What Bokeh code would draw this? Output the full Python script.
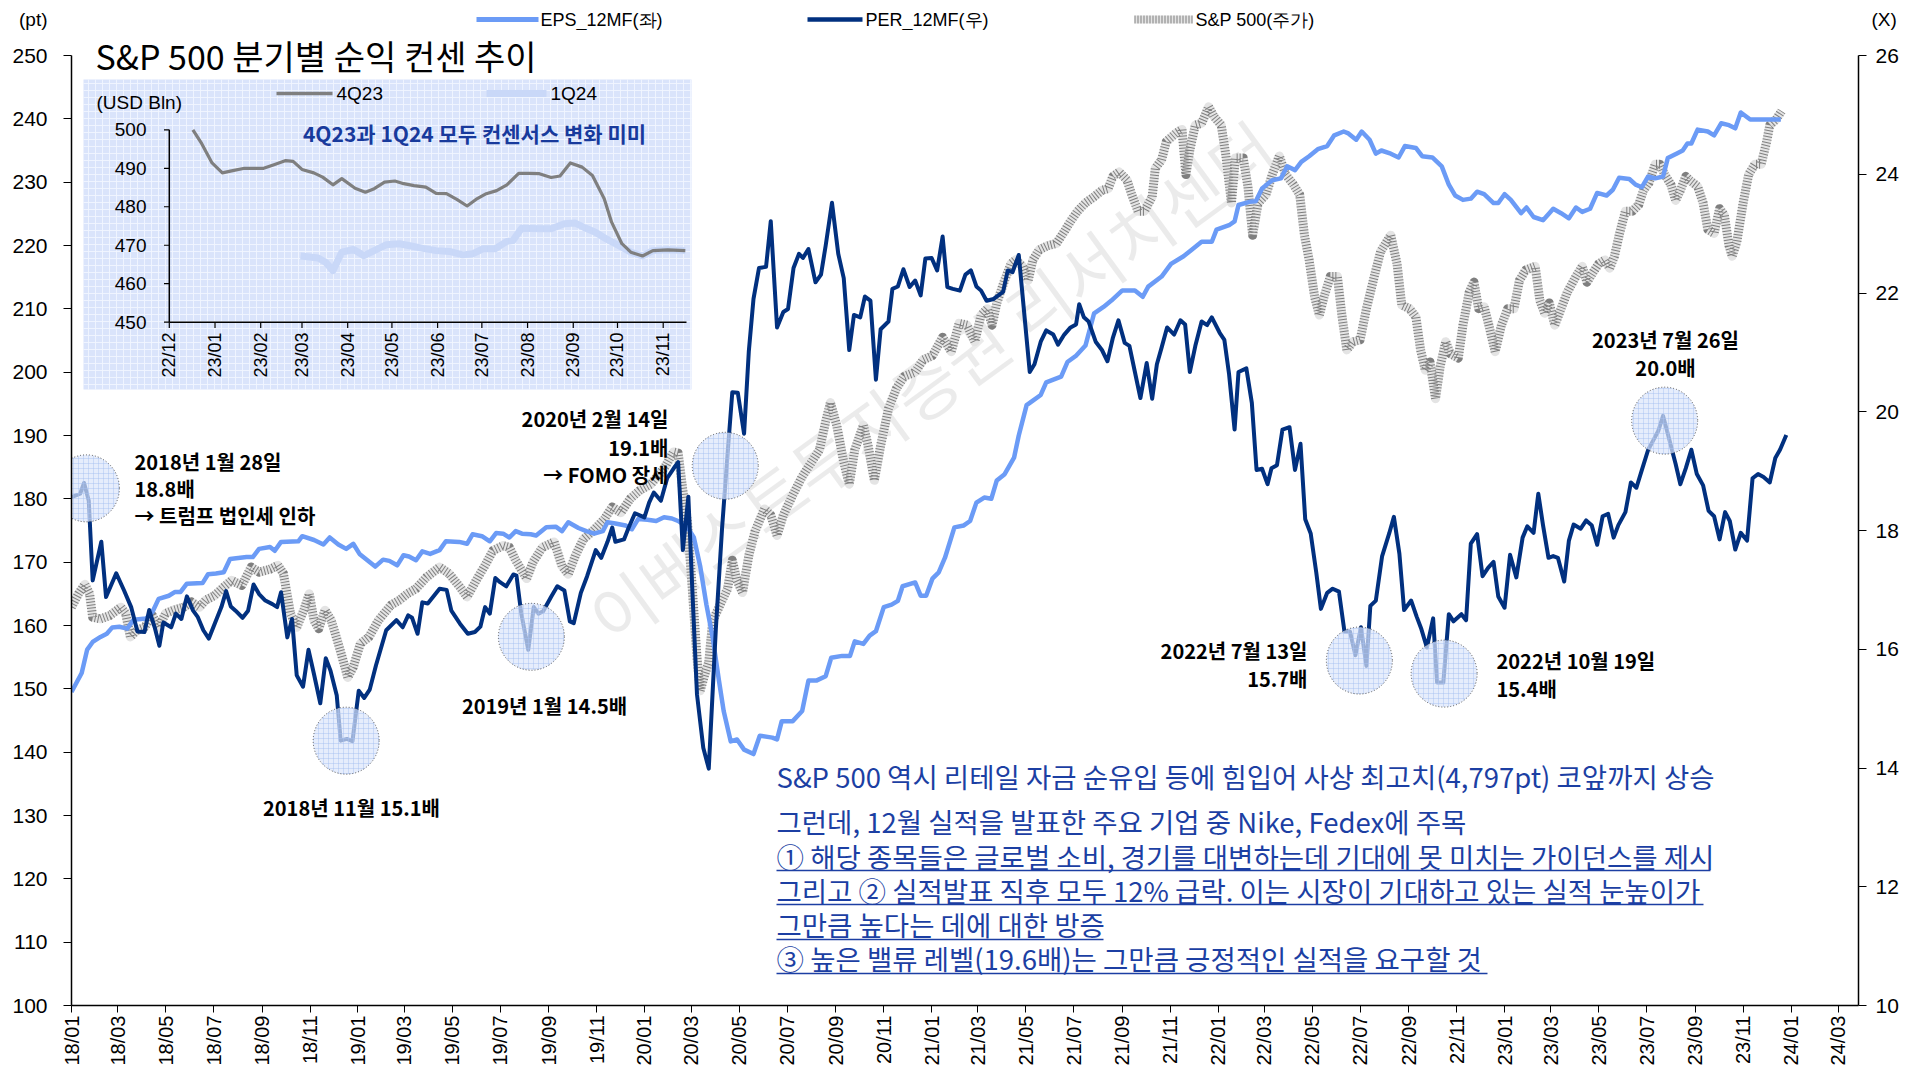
import math
import pandas as pd
from bokeh.plotting import figure
from bokeh.layouts import column
from bokeh.models import Range1d, LinearAxis, FixedTicker, DatetimeTickFormatter
from bokeh.core.properties import value
from bokeh.embed import file_html
from bokeh.resources import INLINE

# ---------------- DATA ----------------
per_dates = [
"2018-01-01","2018-01-12","2018-01-17","2018-01-23","2018-01-28","2018-02-08","2018-02-14","2018-02-27","2018-03-09","2018-03-18",
"2018-03-26","2018-04-04","2018-04-10","2018-04-17","2018-04-23","2018-04-28","2018-05-08","2018-05-14","2018-05-21","2018-05-28",
"2018-06-05","2018-06-11","2018-06-18","2018-06-25","2018-07-04","2018-07-11","2018-07-17","2018-07-23","2018-07-29","2018-08-07",
"2018-08-14","2018-08-21","2018-08-28","2018-09-05","2018-09-14","2018-09-20","2018-09-25","2018-10-03","2018-10-09","2018-10-15",
"2018-10-23","2018-10-30","2018-11-06","2018-11-14","2018-11-21","2018-11-27","2018-12-05","2018-12-10","2018-12-18","2018-12-25",
"2019-01-02","2019-01-09","2019-01-16","2019-01-24","2019-02-06","2019-02-19","2019-02-27","2019-03-06","2019-03-11","2019-03-18",
"2019-03-24","2019-03-31","2019-04-15","2019-04-24","2019-04-30","2019-05-11","2019-05-21","2019-05-30","2019-06-06","2019-06-12",
"2019-06-18","2019-06-25","2019-07-01","2019-07-09","2019-07-18","2019-07-22","2019-07-28","2019-08-06","2019-08-13","2019-08-19",
"2019-08-25","2019-09-04","2019-09-12","2019-09-21","2019-09-28","2019-10-03","2019-10-12","2019-10-20","2019-10-31","2019-11-07",
"2019-11-15","2019-11-21","2019-11-25","2019-12-06","2019-12-12","2019-12-20","2020-01-01","2020-01-07","2020-01-13","2020-01-22",
"2020-01-30","2020-02-09","2020-02-13","2020-02-19","2020-02-23","2020-02-26","2020-03-02","2020-03-08","2020-03-16","2020-03-23",
"2020-04-01","2020-04-09","2020-04-16","2020-04-22","2020-04-29","2020-05-07","2020-05-13","2020-05-19","2020-05-26","2020-06-04",
"2020-06-10","2020-06-18","2020-06-26","2020-07-02","2020-07-09","2020-07-16","2020-07-21","2020-07-28","2020-08-06","2020-08-13",
"2020-08-19","2020-08-27","2020-09-04","2020-09-11","2020-09-18","2020-09-24","2020-10-02","2020-10-08","2020-10-15","2020-10-22",
"2020-10-28","2020-11-07","2020-11-12","2020-11-19","2020-11-26","2020-12-04","2020-12-11","2020-12-18","2020-12-24","2021-01-01",
"2021-01-08","2021-01-15","2021-01-21","2021-01-28","2021-02-06","2021-02-13","2021-02-20","2021-02-27","2021-03-05","2021-03-12",
"2021-03-21","2021-04-02","2021-04-08","2021-04-14","2021-04-22","2021-05-06","2021-05-12","2021-05-20","2021-05-27","2021-06-05",
"2021-06-11","2021-06-19","2021-06-27","2021-07-04","2021-07-08","2021-07-14","2021-07-20","2021-07-29","2021-08-06","2021-08-13",
"2021-08-20","2021-08-27","2021-09-04","2021-09-10","2021-09-17","2021-09-24","2021-10-02","2021-10-09","2021-10-15","2021-10-21",
"2021-10-28","2021-11-06","2021-11-14","2021-11-20","2021-11-26","2021-12-03","2021-12-11","2021-12-18","2021-12-24","2022-01-03",
"2022-01-09","2022-01-15","2022-01-22","2022-01-27","2022-02-06","2022-02-13","2022-02-19","2022-02-26","2022-03-05","2022-03-10",
"2022-03-17","2022-03-24","2022-04-02","2022-04-09","2022-04-16","2022-04-22","2022-04-29","2022-05-06","2022-05-12","2022-05-20",
"2022-05-27","2022-06-04","2022-06-11","2022-06-18","2022-06-25","2022-07-02","2022-07-09","2022-07-14","2022-07-21","2022-07-29",
"2022-08-07","2022-08-13","2022-08-20","2022-08-26","2022-09-04","2022-09-11","2022-09-17","2022-09-24","2022-10-02","2022-10-07",
"2022-10-15","2022-10-22","2022-10-28","2022-11-07","2022-11-13","2022-11-19","2022-11-27","2022-12-04","2022-12-11","2022-12-18",
"2022-12-24","2023-01-01","2023-01-08","2023-01-16","2023-01-24","2023-01-30","2023-02-07","2023-02-13","2023-02-19","2023-02-26",
"2023-03-04","2023-03-10","2023-03-18","2023-03-24","2023-03-30","2023-04-08","2023-04-15","2023-04-22","2023-04-29","2023-05-06",
"2023-05-13","2023-05-20","2023-05-26","2023-06-04","2023-06-11","2023-06-18","2023-06-25","2023-07-03","2023-07-10","2023-07-16",
"2023-07-22","2023-07-28","2023-08-07","2023-08-13","2023-08-20","2023-08-27","2023-09-03","2023-09-11","2023-09-18","2023-09-25",
"2023-10-02","2023-10-09","2023-10-15","2023-10-22","2023-10-29","2023-11-06","2023-11-13","2023-11-20","2023-11-27","2023-12-05",
"2023-12-12","2023-12-18","2023-12-26"]
per_values = [
18.56,18.62,18.80,18.50,17.16,17.81,16.88,17.28,16.99,16.71,
16.30,16.29,16.66,16.37,16.06,16.45,16.37,16.60,16.51,16.89,
16.65,16.54,16.32,16.18,16.48,16.71,16.98,16.72,16.65,16.53,
16.65,17.09,16.93,16.82,16.76,16.71,16.96,16.20,16.51,15.56,
15.37,15.99,15.58,15.09,15.85,15.64,15.22,14.46,14.49,14.45,
15.30,15.18,15.32,15.73,16.32,16.49,16.37,16.57,16.53,16.26,
16.79,16.77,17.02,17.00,16.65,16.43,16.26,16.29,16.38,16.71,
16.60,17.20,17.13,17.06,17.26,17.24,16.61,15.99,16.71,16.60,
16.64,16.88,17.06,16.99,16.47,16.44,16.95,17.23,17.67,17.54,
17.81,18.05,17.81,17.85,18.05,18.29,18.22,18.47,18.64,18.50,
18.88,19.08,19.15,17.67,18.19,18.57,17.02,15.24,14.34,13.99,
16.34,18.05,19.29,20.33,20.32,19.63,21.01,21.90,22.42,22.44,
23.21,21.42,21.68,21.73,22.42,22.66,22.59,22.74,22.18,22.31,
22.80,23.52,22.66,22.25,21.04,21.63,21.59,21.94,21.87,20.54,
21.39,21.52,22.07,22.11,22.40,22.10,22.21,21.96,22.58,22.59,
22.38,22.95,22.10,22.07,22.04,22.31,22.38,22.11,22.04,21.87,
21.90,22.02,22.38,22.35,22.64,20.67,20.80,21.18,21.37,21.30,
21.13,21.30,21.42,21.47,21.81,21.59,21.52,21.18,21.04,20.85,
21.25,21.54,21.16,21.11,20.67,20.23,20.82,20.22,20.80,21.08,
21.42,21.30,21.54,21.47,20.67,21.11,21.52,21.46,21.59,21.33,
21.21,20.63,19.70,20.67,20.73,20.15,19.02,19.04,18.78,19.05,
19.10,19.70,19.74,19.02,19.46,18.19,17.95,17.30,16.68,16.95,
17.02,16.97,16.30,16.30,15.90,16.37,15.72,16.73,16.82,17.57,
17.95,18.23,17.61,16.66,16.82,16.55,16.34,16.03,16.52,15.44,
15.44,16.59,16.47,16.59,16.49,17.78,17.94,17.23,17.37,17.47,
16.89,16.70,17.59,17.21,17.88,18.07,17.96,18.62,18.09,17.54,
17.57,17.54,17.14,17.83,18.10,18.03,18.17,18.09,17.76,18.24,
18.28,17.88,18.09,18.31,18.81,18.72,19.02,19.36,19.53,19.68,
19.93,19.63,19.12,18.78,19.05,19.36,18.95,18.76,18.33,18.24,
17.85,18.31,18.16,17.68,17.96,17.83,18.88,18.95,18.90,18.81,
19.22,19.36,19.61]

eps_dates = [
"2018-01-01","2018-01-14","2018-01-21","2018-01-28","2018-02-07","2018-02-15","2018-02-22","2018-03-03","2018-03-13","2018-03-21",
"2018-04-06","2018-04-14","2018-04-22","2018-05-05","2018-05-13","2018-05-20","2018-05-28","2018-06-17","2018-06-24","2018-07-04",
"2018-07-14","2018-07-22","2018-08-12","2018-08-20","2018-08-28","2018-09-11","2018-09-17","2018-09-25","2018-10-17","2018-10-22",
"2018-11-06","2018-11-18","2018-11-26","2018-12-07","2018-12-17","2018-12-26","2019-01-03","2019-01-13","2019-01-23","2019-02-02",
"2019-02-10","2019-02-20","2019-02-28","2019-03-07","2019-03-16","2019-03-24","2019-04-03","2019-04-15","2019-04-23","2019-05-10",
"2019-05-20","2019-05-27","2019-06-08","2019-06-18","2019-06-26","2019-07-05","2019-07-13","2019-07-21","2019-07-29","2019-08-09",
"2019-08-16","2019-08-29","2019-09-10","2019-09-18","2019-09-26","2019-10-09","2019-10-19","2019-10-29","2019-11-09","2019-11-15",
"2019-11-25","2019-12-08","2019-12-16","2019-12-24","2020-01-05","2020-01-16","2020-01-26","2020-02-05","2020-02-13","2020-02-25",
"2020-03-04","2020-03-12","2020-03-20","2020-03-28","2020-04-05","2020-04-11","2020-04-20","2020-04-28","2020-05-07","2020-05-19",
"2020-05-27","2020-06-12","2020-06-18","2020-06-24","2020-07-08","2020-07-20","2020-07-28","2020-08-07","2020-08-19","2020-08-26",
"2020-09-09","2020-09-19","2020-09-25","2020-10-06","2020-10-14","2020-10-22","2020-11-01","2020-11-11","2020-11-19","2020-11-25",
"2020-12-11","2020-12-18","2020-12-25","2021-01-02","2021-01-10","2021-01-18","2021-01-30","2021-02-11","2021-02-19","2021-02-27",
"2021-03-09","2021-03-18","2021-03-25","2021-04-04","2021-04-16","2021-04-22","2021-05-02","2021-05-10","2021-05-20","2021-05-27",
"2021-06-15","2021-06-23","2021-07-04","2021-07-16","2021-07-27","2021-08-08","2021-08-18","2021-09-01","2021-09-17","2021-09-27",
"2021-10-04","2021-10-21","2021-11-02","2021-11-18","2021-11-28","2021-12-11","2021-12-24","2021-12-30","2022-01-15","2022-01-22",
"2022-01-27","2022-02-10","2022-02-18","2022-02-26","2022-03-11","2022-03-22","2022-03-30","2022-04-09","2022-04-17","2022-04-27",
"2022-05-08","2022-05-20","2022-05-29","2022-06-10","2022-06-16","2022-06-26","2022-07-03","2022-07-13","2022-07-21","2022-07-28",
"2022-08-09","2022-08-19","2022-08-27","2022-09-10","2022-09-18","2022-10-01","2022-10-13","2022-10-22","2022-10-30","2022-11-09",
"2022-11-19","2022-11-27","2022-12-06","2022-12-18","2022-12-24","2023-01-01","2023-01-09","2023-01-22","2023-01-29","2023-02-07",
"2023-02-19","2023-02-27","2023-03-04","2023-03-14","2023-03-24","2023-04-02","2023-04-10","2023-04-20","2023-04-29","2023-05-11",
"2023-05-19","2023-05-27","2023-06-09","2023-06-17","2023-06-25","2023-07-03","2023-07-12","2023-07-22","2023-07-28","2023-08-08",
"2023-08-16","2023-08-22","2023-08-27","2023-09-04","2023-09-17","2023-09-25","2023-10-04","2023-10-14","2023-10-22","2023-10-29",
"2023-11-10","2023-11-26","2023-12-19"]
eps_values = [
149.5,152.5,156.2,157.4,158.2,158.7,159.7,159.8,159.5,160.9,
161.1,162.1,164.2,164.7,165.3,165.3,166.6,166.7,168.1,168.2,
168.4,170.5,170.8,170.8,172.1,172.4,171.8,173.2,173.3,174.1,
173.5,172.8,173.9,172.8,172.1,172.9,171.3,170.3,169.3,170.4,
170.2,169.5,171.1,170.9,170.3,171.7,171.3,171.9,173.3,173.2,
172.9,174.4,174.1,173.3,174.6,174.5,173.9,174.9,174.5,174.4,
174.2,175.5,175.6,174.9,176.3,175.4,174.9,174.5,174.9,176.3,
176.1,175.8,175.2,176.8,176.7,176.5,177.1,176.9,176.5,175.5,
173.9,169.4,163.3,158.1,151.3,146.5,141.7,142.0,140.4,139.7,
142.6,142.3,142.0,144.9,144.9,146.5,151.3,151.3,152.0,154.9,
155.2,155.2,157.5,157.1,158.4,159.1,162.9,163.3,163.9,166.2,
166.8,164.7,164.7,167.4,168.4,170.7,175.5,175.8,176.5,179.4,
180.2,180.0,182.9,183.9,186.5,190.0,194.8,195.5,196.4,198.4,
199.3,201.6,202.6,204.2,209.3,210.3,211.3,212.9,212.9,211.9,
213.5,215.1,217.1,218.3,219.3,220.6,220.6,222.5,223.2,223.8,
226.4,226.9,227.0,229.0,230.3,230.6,232.5,231.9,233.2,234.1,
235.2,235.7,237.4,238.0,237.7,236.7,238.0,236.7,234.5,235.0,
234.5,233.9,235.7,235.4,234.1,233.9,232.5,229.6,227.9,227.2,
227.4,228.5,228.1,226.7,226.7,228.1,227.2,225.1,226.0,224.5,
224.0,225.1,225.8,225.1,224.3,226.0,225.3,225.8,228.3,227.9,
228.8,230.7,230.5,229.6,229.2,230.9,230.6,230.9,233.8,234.5,
235.0,236.1,236.1,238.3,238.0,237.4,239.3,239.0,238.5,241.0,
239.9,239.9,239.9]

spx_dates = [
"2018-01-01","2018-01-10","2018-01-18","2018-01-24","2018-01-28","2018-02-07","2018-02-19","2018-03-05","2018-03-11","2018-03-17",
"2018-03-25","2018-04-04","2018-04-14","2018-04-22","2018-05-01","2018-05-11","2018-05-24","2018-06-03","2018-06-13","2018-06-21",
"2018-07-02","2018-07-14","2018-07-24","2018-08-06","2018-08-18","2018-08-28","2018-09-11","2018-09-21","2018-09-28","2018-10-07",
"2018-10-15","2018-10-24","2018-10-31","2018-11-06","2018-11-12","2018-11-20","2018-11-28","2018-12-07","2018-12-13","2018-12-19",
"2018-12-26","2019-01-04","2019-01-15","2019-01-27","2019-02-12","2019-02-23","2019-03-05","2019-03-16","2019-03-29","2019-04-15",
"2019-04-27","2019-05-11","2019-05-20","2019-06-02","2019-06-12","2019-06-22","2019-07-05","2019-07-13","2019-07-21","2019-08-04",
"2019-08-12","2019-08-24","2019-09-08","2019-09-18","2019-09-26","2019-10-05","2019-10-15","2019-10-27","2019-11-11","2019-11-21",
"2019-12-02","2019-12-14","2019-12-26","2020-01-09","2020-01-20","2020-01-28","2020-02-07","2020-02-13","2020-02-19","2020-02-25",
"2020-03-02","2020-03-08","2020-03-12","2020-03-18","2020-03-23","2020-03-28","2020-04-05","2020-04-16","2020-04-22","2020-04-28",
"2020-05-05","2020-05-13","2020-05-21","2020-06-02","2020-06-10","2020-06-18","2020-06-26","2020-07-08","2020-07-20","2020-08-01",
"2020-08-11","2020-08-19","2020-08-25","2020-09-02","2020-09-11","2020-09-18","2020-09-25","2020-10-06","2020-10-12","2020-10-20",
"2020-10-28","2020-11-07","2020-11-17","2020-11-27","2020-12-11","2020-12-21","2021-01-02","2021-01-15","2021-01-26","2021-02-05",
"2021-02-15","2021-02-25","2021-03-05","2021-03-13","2021-03-19","2021-03-25","2021-04-04","2021-04-12","2021-04-18","2021-04-27",
"2021-05-04","2021-05-10","2021-05-18","2021-05-28","2021-06-09","2021-06-19","2021-06-27","2021-07-06","2021-07-16","2021-07-27",
"2021-08-06","2021-08-14","2021-08-20","2021-08-28","2021-09-07","2021-09-13","2021-09-21","2021-09-29","2021-10-09","2021-10-13",
"2021-10-21","2021-10-27","2021-11-08","2021-11-16","2021-11-21","2021-11-26","2021-12-03","2021-12-11","2021-12-20","2021-12-27",
"2022-01-05","2022-01-11","2022-01-18","2022-01-23","2022-02-02","2022-02-08","2022-02-14","2022-02-21","2022-03-03","2022-03-11",
"2022-03-20","2022-03-28","2022-04-07","2022-04-15","2022-04-21","2022-04-27","2022-05-04","2022-05-10","2022-05-16","2022-05-24",
"2022-06-02","2022-06-08","2022-06-14","2022-06-22","2022-07-01","2022-07-09","2022-07-19","2022-07-27","2022-08-09","2022-08-17",
"2022-08-23","2022-09-02","2022-09-10","2022-09-16","2022-09-22","2022-09-28","2022-10-05","2022-10-11","2022-10-18","2022-10-24",
"2022-11-03","2022-11-09","2022-11-17","2022-11-23","2022-11-29","2022-12-06","2022-12-12","2022-12-20","2022-12-28","2023-01-05",
"2023-01-13","2023-01-20","2023-01-28","2023-02-09","2023-02-15","2023-02-21","2023-02-27","2023-03-06","2023-03-14","2023-03-22",
"2023-04-02","2023-04-10","2023-04-16","2023-04-24","2023-05-01","2023-05-09","2023-05-15","2023-05-21","2023-05-27","2023-06-04",
"2023-06-13","2023-06-21","2023-06-27","2023-07-04","2023-07-12","2023-07-18","2023-07-24","2023-08-01","2023-08-07","2023-08-13",
"2023-08-20","2023-08-25","2023-09-04","2023-09-11","2023-09-17","2023-09-25","2023-10-02","2023-10-08","2023-10-14","2023-10-18",
"2023-10-24","2023-11-01","2023-11-08","2023-11-16","2023-11-24","2023-12-01","2023-12-05","2023-12-13","2023-12-20"]
spx_values = [
2600,2659,2700,2659,2556,2549,2564,2600,2573,2470,
2498,2512,2564,2512,2573,2587,2600,2623,2600,2631,
2650,2688,2717,2695,2775,2753,2766,2783,2747,2573,
2512,2587,2659,2542,2506,2587,2542,2440,2368,2293,
2338,2440,2470,2542,2609,2631,2659,2681,2730,2775,
2747,2688,2645,2725,2783,2847,2869,2861,2805,2725,
2797,2861,2885,2780,2744,2825,2896,2932,2985,3038,
3013,3074,3110,3137,3181,3217,3278,3273,3110,2966,
2681,2379,2235,2307,2360,2540,2600,2681,2805,2717,
2664,2825,2932,3029,3002,2913,3002,3090,3170,3234,
3287,3411,3494,3395,3234,3137,3287,3395,3306,3154,
3306,3467,3555,3608,3627,3680,3699,3779,3716,3840,
3832,3760,3876,3904,3832,3929,4028,4100,4117,4089,
4028,4117,4161,4178,4189,4241,4286,4330,4366,4393,
4421,4429,4482,4501,4465,4402,4330,4330,4393,4518,
4554,4634,4670,4687,4490,4598,4706,4714,4786,4742,
4706,4571,4366,4562,4562,4438,4225,4366,4402,4490,
4571,4490,4446,4402,4225,4117,3956,3876,3956,4045,
4045,3868,3724,3760,3768,3904,4045,4153,4225,4100,
3920,3904,3868,3724,3635,3671,3511,3652,3760,3707,
3688,3832,3976,4020,3904,3912,3832,3716,3832,3904,
3904,4028,4073,4089,3940,3884,3929,3832,3904,3976,
4045,4089,4020,4064,4100,4117,4081,4133,4225,4330,
4330,4358,4421,4454,4535,4535,4490,4446,4377,4421,
4482,4465,4438,4366,4250,4233,4341,4313,4180,4133,
4197,4366,4490,4535,4535,4634,4706,4731,4767]

q4_dates = ["2022-12-17","2022-12-23","2022-12-30","2023-01-06","2023-01-13","2023-01-21","2023-02-03","2023-02-10",
            "2023-02-18","2023-02-23","2023-03-01","2023-03-09","2023-03-15","2023-03-22","2023-03-28","2023-04-06",
            "2023-04-13","2023-04-19","2023-04-26","2023-05-03","2023-05-09","2023-05-16","2023-05-24","2023-05-31",
            "2023-06-07","2023-06-14","2023-06-21","2023-06-27","2023-07-04","2023-07-11","2023-07-18","2023-07-26",
            "2023-08-02","2023-08-09","2023-08-17","2023-08-23","2023-08-30","2023-09-07","2023-09-14","2023-09-22",
            "2023-09-27","2023-10-04","2023-10-10","2023-10-18","2023-10-25","2023-11-04","2023-11-16"]
q4_values = [500.0,496.4,491.4,488.8,489.4,490.0,490.0,490.9,492.0,491.8,489.7,488.8,487.7,485.7,487.3,484.8,
             483.8,484.7,486.4,486.7,486.0,485.5,485.1,483.5,483.4,481.9,480.2,481.9,483.4,484.2,485.7,488.7,
             488.7,488.6,487.6,488.0,491.4,490.3,488.1,482.1,476.0,470.4,468.2,467.2,468.6,468.8,468.6]
q1_dates = ["2023-02-28","2023-03-12","2023-03-17","2023-03-22","2023-03-28","2023-04-05","2023-04-12","2023-04-19",
            "2023-04-27","2023-05-06","2023-05-14","2023-05-22","2023-05-31","2023-06-09","2023-06-18","2023-06-25",
            "2023-07-02","2023-07-10","2023-07-18","2023-07-22","2023-07-28","2023-08-09","2023-08-17","2023-08-26",
            "2023-09-02","2023-09-08","2023-09-16","2023-09-24","2023-10-02","2023-10-10","2023-10-18","2023-10-25",
            "2023-11-04","2023-11-16"]
q1_values = [467.2,466.7,465.6,463.4,468.2,468.9,467.3,468.6,470.1,470.4,469.8,469.2,468.6,468.4,467.5,467.8,
             469.1,469.1,471.0,471.2,474.4,474.3,474.3,475.6,475.8,474.7,473.4,471.5,469.9,468.2,467.2,468.6,
             468.8,468.6]

x_tick_labels = ["18/01","18/03","18/05","18/07","18/09","18/11","19/01","19/03","19/05","19/07","19/09","19/11",
                 "20/01","20/03","20/05","20/07","20/09","20/11","21/01","21/03","21/05","21/07","21/09","21/11",
                 "22/01","22/03","22/05","22/07","22/09","22/11","23/01","23/03","23/05","23/07","23/09","23/11",
                 "24/01","24/03"]
left_ticks = [100, 110, 120, 130, 140, 150, 160, 170, 180, 190, 200, 210, 220, 230, 240, 250]
right_ticks = [10, 12, 14, 16, 18, 20, 22, 24, 26]
inset_x_tick_labels = ["22/12","23/01","23/02","23/03","23/04","23/05","23/06","23/07","23/08","23/09","23/10","23/11"]
inset_y_ticks = [450, 460, 470, 480, 490, 500]

# highlighted points (date, PER) marked with circles
mark_dates = ["2018-01-20","2018-12-17","2019-08-10","2020-04-13","2022-06-30","2022-10-16","2023-07-24"]
mark_per = [18.71, 14.46, 16.21, 19.09, 15.81, 15.59, 19.85]

series_names = ["EPS_12MF(좌)", "PER_12MF(우)", "S&P 500(주가)"]
unit_names = ["(pt)", "(X)"]
inset_names = ["4Q23", "1Q24"]
title_text = "S&P 500 분기별 순익 컨센 추이"
inset_title = "4Q23과 1Q24 모두 컨센서스 변화 미미"
watermark = "이베스트투자증권 리서치센터"
note_lines = [
    "S&P 500 역시 리테일 자금 순유입 등에 힘입어 사상 최고치(4,797pt) 코앞까지 상승",
    "그런데, 12월 실적을 발표한 주요 기업 중 Nike, Fedex에 주목",
    "① 해당 종목들은 글로벌 소비, 경기를 대변하는데 기대에 못 미치는 가이던스를 제시",
    "그리고 ② 실적발표 직후 모두 12% 급락. 이는 시장이 기대하고 있는 실적 눈높이가",
    "그만큼 높다는 데에 대한 방증",
    "③ 높은 밸류 레벨(19.6배)는 그만큼 긍정적인 실적을 요구할 것",
]
callouts = ["2018년 1월 28일", "18.8배", "→ 트럼프 법인세 인하", "2018년 11월 15.1배", "2019년 1월 14.5배",
            "2020년 2월 14일", "19.1배", "→ FOMO 장세", "2022년 7월 13일", "15.7배",
            "2022년 10월 19일", "15.4배", "2023년 7월 26일", "20.0배"]

# ---------------- LAYOUT (page pixels) ----------------
W, H = 1917, 1069
TOP_H = 30                      # strip above the main plot frame (legend + units)
FL, FR, FT, FB = 71, 1858, TOP_H, 1005
X_START, X_END = "2018-01-01", "2024-03-27"
L_CAL = ((55, 250.0), (1005, 100.0))
R_CAL = ((55, 26.0), (1005, 10.0))
SPX_AT_100, SPX_AT_250 = 860.0, 5010.0
IX_CAL = ((168.8, "2022-12-01"), (662.7, "2023-11-01"))
IY_CAL = ((129.3, 500.0), (321.7, 450.0))

callout_pos = [(134, 461, "left"), (134, 488, "left"), (134, 515, "left"), (351, 807, "center"),
               (544, 705, "center"), (668, 418, "right"), (668, 447, "right"), (668, 474, "right"),
               (1307, 650, "right"), (1307, 678, "right"), (1496, 660, "left"), (1496, 688, "left"),
               (1665, 339, "center"), (1665, 367, "center")]
note_x = 776
note_y = [775, 820, 855, 889, 923, 957]
underlines = [(870, 1710), (904, 1703), (939, 1103), (973, 1487)]

SANS = "Liberation Sans"
KR = "Noto Sans CJK KR"
EPS_C, PER_C, BLUE_T = "#6b9bf6", "#01307f", "#1c3fa3"
SPX_BASE, SPX_DOT = "#e4e4e4", "#3c3c3c"


def ms(d):
    return pd.Timestamp(d).value / 1e6


def lin(cal):
    (p0, v0), (p1, v1) = cal
    return lambda px: v0 + (px - p0) * (v1 - v0) / (p1 - p0)


X0, X1 = ms(X_START), ms(X_END)
px2x = lin(((FL, X0), (FR, X1)))
px2L = lin(L_CAL)
px2R = lin(R_CAL)
px2S = lambda py: SPX_AT_100 + (px2L(py) - 100) * (SPX_AT_250 - SPX_AT_100) / 150.0
px2ix = lin(((IX_CAL[0][0], ms(IX_CAL[0][1])), (IX_CAL[1][0], ms(IX_CAL[1][1]))))
px2iy = lin(IY_CAL)

# ---------------- top strip: legend & units ----------------
top = figure(width=W, height=TOP_H, x_range=Range1d(FL, FR), y_range=Range1d(TOP_H, 0),
             output_backend="svg", toolbar_location=None,
             min_border_left=FL, min_border_right=W - FR, min_border_top=0, min_border_bottom=0,
             x_axis_location=None, y_axis_location=None)
top.outline_line_color = None
top.xgrid.grid_line_color = None
top.ygrid.grid_line_color = None
LEG_Y = 19
top.segment(x0=[476], y0=[LEG_Y], x1=[538], y1=[LEG_Y], line_color=EPS_C, line_width=5)
top.segment(x0=[807], y0=[LEG_Y], x1=[862], y1=[LEG_Y], line_color=PER_C, line_width=4.5)
top.segment(x0=[1134], y0=[LEG_Y], x1=[1192], y1=[LEG_Y], line_color=SPX_BASE, line_width=8)
top.segment(x0=[1134], y0=[LEG_Y], x1=[1192], y1=[LEG_Y], line_color=SPX_DOT, line_width=8,
            line_dash="1 2", line_alpha=0.6)
top.text(x=[540, 865, 1195], y=[LEG_Y] * 3, text=series_names, text_align="left", text_baseline="middle",
         text_font=value(SANS), text_font_size="18px", text_color="black")
# unit captions as the only tick labels of otherwise invisible axes
for side, name, standoff in (("left", unit_names[0], 24), ("right", unit_names[1], 13)):
    ax = LinearAxis(ticker=FixedTicker(ticks=[LEG_Y]), major_label_overrides={LEG_Y: name})
    ax.axis_line_color = None
    ax.major_tick_line_color = None
    ax.minor_tick_line_color = None
    ax.major_tick_out = 0
    ax.major_tick_in = 0
    ax.major_label_standoff = standoff
    ax.major_label_text_font = SANS
    ax.major_label_text_font_size = "19px"
    ax.major_label_text_color = "black"
    top.add_layout(ax, side)

# ---------------- main figure ----------------
p = figure(width=W, height=H - TOP_H, x_axis_type="datetime",
           x_range=Range1d(X0, X1), y_range=Range1d(px2L(FB), px2L(FT)),
           output_backend="svg", toolbar_location=None,
           min_border_left=FL, min_border_right=W - FR,
           min_border_top=0, min_border_bottom=H - FB)
p.extra_y_ranges = {"per": Range1d(px2R(FB), px2R(FT)),
                    "spx": Range1d(px2S(FB), px2S(FT)),
                    "iy": Range1d(px2iy(FB), px2iy(FT))}
p.extra_x_ranges = {"ix": Range1d(px2ix(FL), px2ix(FR))}
p.outline_line_color = None
p.xgrid.grid_line_color = None
p.ygrid.grid_line_color = None
p.background_fill_color = "white"
p.border_fill_color = "white"

xa = p.xaxis[0]
xa.ticker = FixedTicker(ticks=[ms(pd.to_datetime(t, format="%y/%m")) for t in x_tick_labels])
fmt = "%y/%m"
xa.formatter = DatetimeTickFormatter(microseconds=fmt, milliseconds=fmt, seconds=fmt, minsec=fmt,
                                     minutes=fmt, hourmin=fmt, hours=fmt, days=fmt, months=fmt, years=fmt)
xa.major_label_orientation = math.pi / 2
xa.major_label_text_font = SANS
xa.major_label_text_font_size = "20px"
xa.major_label_text_color = "black"
xa.major_label_standoff = 3
xa.major_tick_out = 7
xa.major_tick_in = 0
xa.minor_tick_out = 0
xa.minor_tick_in = 0
xa.axis_line_width = 1.5
xa.axis_line_color = "black"
xa.major_tick_line_color = "black"

ya = p.yaxis[0]
ya.ticker = FixedTicker(ticks=left_ticks)
ya.bounds = (min(left_ticks), max(left_ticks))
ya.axis_line_color = "black"
ya.axis_line_width = 1.5
ya.major_tick_out = 8
ya.major_tick_in = 0
ya.minor_tick_out = 0
ya.minor_tick_in = 0
ya.major_tick_line_color = "black"
ya.major_label_text_font = SANS
ya.major_label_text_font_size = "21px"
ya.major_label_text_color = "black"
ya.major_label_standoff = 16

ra = LinearAxis(y_range_name="per", ticker=FixedTicker(ticks=right_ticks))
ra.bounds = (min(right_ticks), max(right_ticks))
ra.axis_line_color = "black"
ra.axis_line_width = 1.5
ra.major_tick_out = 8
ra.major_tick_in = 0
ra.minor_tick_out = 0
ra.minor_tick_in = 0
ra.major_tick_line_color = "black"
ra.major_label_text_font = SANS
ra.major_label_text_font_size = "21px"
ra.major_label_text_color = "black"
ra.major_label_standoff = 9
p.add_layout(ra, "right")

# watermark
p.text(x=[px2x(930)], y=[px2L(380)], text=[watermark], angle=0.63, text_align="center",
       text_baseline="middle", text_font=value(KR), text_font_size="68px", text_color="#000000",
       text_alpha=0.08)

# ---------------- inset ----------------
p.quad(left=[px2x(83)], right=[px2x(691)], top=[px2L(79)], bottom=[px2L(389)],
       fill_color="#dae4fb", line_color=None, hatch_pattern="+", hatch_color="#f2f6ff",
       hatch_scale=7, hatch_weight=1, hatch_alpha=0.9)
q1_x = pd.to_datetime(q1_dates)
q4_x = pd.to_datetime(q4_dates)
p.line(q1_x, q1_values, x_range_name="ix", y_range_name="iy", line_color="#c9d8f8", line_width=7,
       line_join="round")
p.line(q4_x, q4_values, x_range_name="ix", y_range_name="iy", line_color="#7f7f7f", line_width=3.2,
       line_join="round")
ix_left, ix_right = px2ix(168.8), px2ix(686)
p.segment(x0=[ix_left], y0=[min(inset_y_ticks)], x1=[ix_left], y1=[max(inset_y_ticks)],
          x_range_name="ix", y_range_name="iy", line_color="black", line_width=1.5)
p.segment(x0=[ix_left], y0=[min(inset_y_ticks)], x1=[ix_right], y1=[min(inset_y_ticks)],
          x_range_name="ix", y_range_name="iy", line_color="black", line_width=1.5)
p.segment(x0=[px2ix(163.5)] * len(inset_y_ticks), y0=inset_y_ticks,
          x1=[ix_left] * len(inset_y_ticks), y1=inset_y_ticks,
          x_range_name="ix", y_range_name="iy", line_color="black", line_width=1.2)
p.text(x=[px2ix(146)] * len(inset_y_ticks), y=inset_y_ticks, text=[str(v) for v in inset_y_ticks],
       x_range_name="ix", y_range_name="iy", text_align="right", text_baseline="middle",
       text_font=value(SANS), text_font_size="19px", text_color="black")
ixt = [ms(pd.to_datetime(t, format="%y/%m")) for t in inset_x_tick_labels]
p.segment(x0=ixt, y0=[min(inset_y_ticks)] * len(ixt), x1=ixt, y1=[px2iy(327.5)] * len(ixt),
          x_range_name="ix", y_range_name="iy", line_color="black", line_width=1.2)
p.text(x=ixt, y=[px2iy(332)] * len(ixt), text=inset_x_tick_labels, angle=math.pi / 2,
       x_range_name="ix", y_range_name="iy", text_align="right", text_baseline="middle",
       text_font=value(SANS), text_font_size="18px", text_color="black")
p.text(x=[px2x(96)], y=[px2L(102)], text=["(USD Bln)"], text_align="left", text_baseline="middle",
       text_font=value(SANS), text_font_size="19px", text_color="black")
p.segment(x0=[px2x(276)], y0=[px2L(93)], x1=[px2x(332)], y1=[px2L(93)], line_color="#7f7f7f", line_width=3.5)
p.segment(x0=[px2x(486)], y0=[px2L(93)], x1=[px2x(546)], y1=[px2L(93)], line_color="#c9d8f8", line_width=7)
p.text(x=[px2x(336), px2x(550)], y=[px2L(93)] * 2, text=inset_names, text_align="left",
       text_baseline="middle", text_font=value(SANS), text_font_size="19px", text_color="black")
p.text(x=[px2x(474)], y=[px2L(132)], text=[inset_title], text_align="center", text_baseline="middle",
       text_font=value(KR), text_font_style="bold", text_font_size="21px", text_color="#183a9c")

# ---------------- main series ----------------
spx_x = pd.to_datetime(spx_dates)
eps_x = pd.to_datetime(eps_dates)
per_x = pd.to_datetime(per_dates)
p.line(spx_x, spx_values, y_range_name="spx", line_color=SPX_BASE, line_width=9, line_join="round")
p.line(spx_x, spx_values, y_range_name="spx", line_color=SPX_DOT, line_width=9, line_dash="1 2",
       line_alpha=0.6, line_join="round")
p.line(eps_x, eps_values, line_color=EPS_C, line_width=4.5, line_join="round")
p.line(per_x, per_values, y_range_name="per", line_color=PER_C, line_width=4, line_join="round")

# highlight circles
p.ellipse(x=pd.to_datetime(mark_dates), y=mark_per, width=66, height=67, width_units="screen",
          height_units="screen", y_range_name="per", fill_color="#dbe5fb", fill_alpha=0.7,
          hatch_pattern="+", hatch_color="#a9c1f2", hatch_scale=5, hatch_weight=0.8, hatch_alpha=0.6,
          line_color="#555555", line_dash="1 2", line_width=1)

# call-out texts
for txt, (cx, cy, al) in zip(callouts, callout_pos):
    p.text(x=[px2x(cx)], y=[px2L(cy)], text=[txt], text_align=al, text_baseline="middle",
           text_font=value(KR), text_font_style="bold", text_font_size="20px", text_color="black")

# commentary block
for txt, ny in zip(note_lines, note_y):
    p.text(x=[px2x(note_x)], y=[px2L(ny)], text=[txt], text_align="left", text_baseline="middle",
           text_font=value(KR), text_font_size="27.5px", text_color=BLUE_T)
p.segment(x0=[px2x(note_x)] * len(underlines), y0=[px2L(u[0]) for u in underlines],
          x1=[px2x(u[1]) for u in underlines], y1=[px2L(u[0]) for u in underlines],
          line_color=BLUE_T, line_width=1.6)

# title
p.text(x=[px2x(95)], y=[px2L(55)], text=[title_text], text_align="left", text_baseline="middle",
       text_font=value(KR), text_font_size="34px", text_color="black")

open("out.html", "w").write(file_html(column(top, p), INLINE))
